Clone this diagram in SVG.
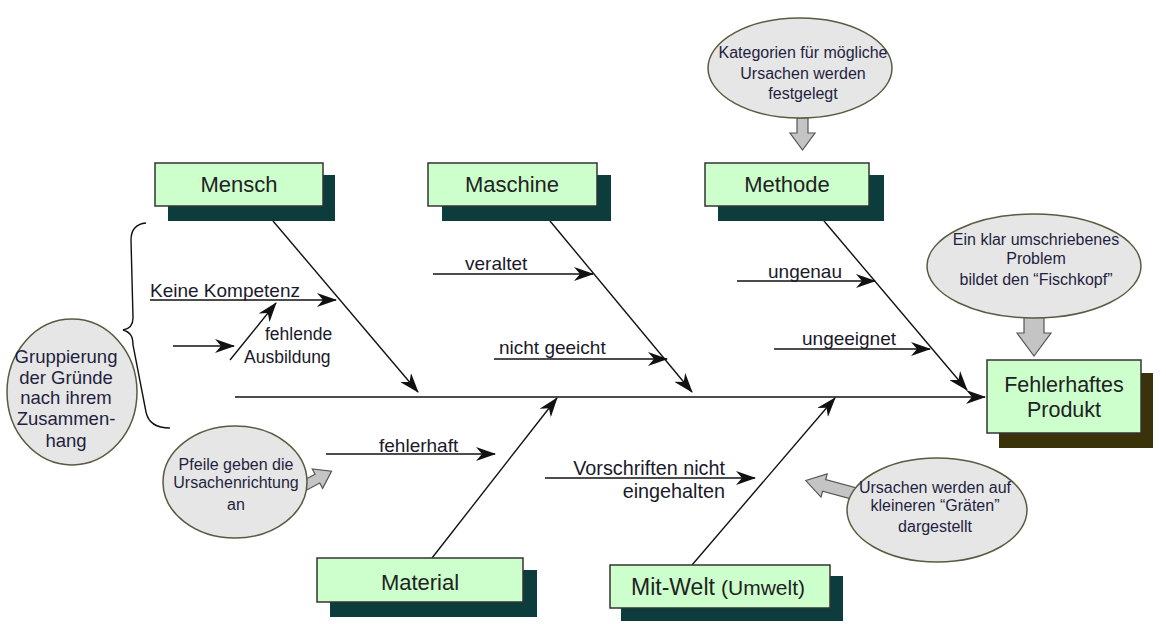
<svg xmlns="http://www.w3.org/2000/svg" width="1166" height="624" viewBox="0 0 1166 624">
<defs>
<style>
.box{fill:#ccffcc;stroke:#333;stroke-width:1.5}
.sh{fill:#0c3c3c}
.sh2{fill:#3a3208}
.ov{fill:#e6e6e6;stroke:#5a5a40;stroke-width:1.5}
.ga{fill:#c4c4c4;stroke:#555;stroke-width:1.2}
.ln{stroke:#111;stroke-width:1.4;fill:none}
.bl{font-family:"Liberation Sans",Arial,sans-serif;font-size:22px;fill:#222;text-anchor:middle}
.lb{font-family:"Liberation Sans",Arial,sans-serif;font-size:19px;fill:#1a1a2a}
.ot{font-family:"Liberation Sans",Arial,sans-serif;font-size:16px;fill:#1f1f3f;text-anchor:middle}
</style>
<marker id="ah" viewBox="0 0 20 14" refX="19" refY="7" markerWidth="20" markerHeight="14" orient="auto" markerUnits="userSpaceOnUse">
<path d="M0,0 L20,7 L0,14 L6,7 z" fill="#111"/>
</marker>
</defs>
<rect width="1166" height="624" fill="#fff"/>

<g id="connectors">
<line class="ln" x1="235" y1="397" x2="985" y2="397" marker-end="url(#ah)"/>
<line class="ln" x1="273" y1="221" x2="418" y2="392" marker-end="url(#ah)"/>
<line class="ln" x1="550" y1="221" x2="692" y2="392" marker-end="url(#ah)"/>
<line class="ln" x1="824" y1="221" x2="967" y2="390" marker-end="url(#ah)"/>
<line class="ln" x1="432" y1="558" x2="557" y2="398" marker-end="url(#ah)"/>
<line class="ln" x1="692" y1="565" x2="835" y2="398" marker-end="url(#ah)"/>
<line class="ln" x1="150" y1="300" x2="336" y2="300" marker-end="url(#ah)"/>
<line class="ln" x1="230" y1="360" x2="276" y2="303" marker-end="url(#ah)"/>
<line class="ln" x1="173" y1="346" x2="234" y2="346" marker-end="url(#ah)"/>
<line class="ln" x1="433" y1="274" x2="593" y2="274" marker-end="url(#ah)"/>
<line class="ln" x1="494" y1="359" x2="667" y2="359" marker-end="url(#ah)"/>
<line class="ln" x1="737" y1="281" x2="875" y2="281" marker-end="url(#ah)"/>
<line class="ln" x1="774" y1="349" x2="930" y2="349" marker-end="url(#ah)"/>
<line class="ln" x1="326" y1="454" x2="495" y2="454" marker-end="url(#ah)"/>
<line class="ln" x1="545" y1="478" x2="755" y2="478" marker-end="url(#ah)"/>
<path class="ln" d="M146,223 C136,224 131,229 131,240 L133,318 C133,326 129,329 123,330 C130,332 133,336 133,345 L146,412 C148,422 156,428 170,428"/>
</g>

<g id="labels">
<text class="lb" x="150" y="297">Keine Kompetenz</text>
<text class="lb" x="265" y="340" style="font-size:17.5px">fehlende</text>
<text class="lb" x="244" y="363" style="font-size:17.5px">Ausbildung</text>
<text class="lb" x="465" y="270">veraltet</text>
<text class="lb" x="499" y="354">nicht geeicht</text>
<text class="lb" x="768" y="278">ungenau</text>
<text class="lb" x="802" y="345">ungeeignet</text>
<text class="lb" x="379" y="452">fehlerhaft</text>
<text class="lb" x="725" y="475" text-anchor="end" style="font-size:19.8px">Vorschriften nicht</text>
<text class="lb" x="725" y="498" text-anchor="end" style="font-size:19.8px">eingehalten</text>
</g>

<g id="mensch">
<rect class="sh" x="168" y="175" width="167" height="46"/>
<rect class="box" x="155" y="163" width="168" height="43"/>
<text class="bl" x="239" y="192">Mensch</text>
</g>
<g id="maschine">
<rect class="sh" x="442" y="175" width="169" height="46"/>
<rect class="box" x="428" y="163" width="169" height="43"/>
<text class="bl" x="512" y="192">Maschine</text>
</g>
<g id="methode">
<rect class="sh" x="718" y="175" width="166" height="46"/>
<rect class="box" x="705" y="163" width="164" height="43"/>
<text class="bl" x="787" y="192">Methode</text>
</g>
<g id="material">
<rect class="sh" x="330" y="570" width="207" height="47"/>
<rect class="box" x="317" y="558" width="206" height="44"/>
<text class="bl" x="420" y="590">Material</text>
</g>
<g id="mitwelt">
<rect class="sh" x="621" y="576" width="222" height="45"/>
<rect class="box" x="610" y="565" width="220" height="43"/>
<text class="bl" x="718" y="595"><tspan style="font-size:23px">Mit-Welt</tspan> <tspan style="font-size:21px">(Umwelt)</tspan></text>
</g>
<g id="produkt">
<rect class="sh2" x="999" y="373" width="154" height="75"/>
<rect class="box" x="987" y="360" width="154" height="73"/>
<text class="bl" x="1064" y="392" style="font-size:21.5px">Fehlerhaftes</text>
<text class="bl" x="1064" y="417" style="font-size:21.5px">Produkt</text>
</g>

<g id="note-kategorien">
<polygon class="ga" points="797,118 808,118 808,133 815,133 802.5,150 790,133 797,133"/>
<ellipse class="ov" cx="800" cy="68" rx="92" ry="50"/>
<text class="ot" x="803" y="58">Kategorien für mögliche</text>
<text class="ot" x="803" y="79">Ursachen werden</text>
<text class="ot" x="803" y="99">festgelegt</text>
</g>
<g id="note-fischkopf">
<polygon class="ga" points="1024,316 1044,316 1044,333 1051,333 1034,356 1017,333 1024,333"/>
<ellipse class="ov" cx="1034" cy="266" rx="107" ry="52"/>
<text class="ot" x="1036" y="245">Ein klar umschriebenes</text>
<text class="ot" x="1036" y="264">Problem</text>
<text class="ot" x="1036" y="285">bildet den “Fischkopf”</text>
</g>
<g id="note-gruppierung">
<ellipse class="ov" cx="72" cy="392" rx="65" ry="73"/>
<text class="ot" x="66" y="363" style="font-size:18.5px">Gruppierung</text>
<text class="ot" x="66" y="384" style="font-size:18.5px">der Gründe</text>
<text class="ot" x="66" y="404" style="font-size:18.5px">nach ihrem</text>
<text class="ot" x="66" y="425" style="font-size:18.5px">Zusammen-</text>
<text class="ot" x="66" y="447" style="font-size:18.5px">hang</text>
</g>
<g id="note-pfeile">
<polygon class="ga" transform="translate(298,489) rotate(-28)" points="0,-5 22,-5 22,-11 38,0 22,11 22,5 0,5"/>
<ellipse class="ov" cx="235" cy="482" rx="72" ry="56"/>
<text class="ot" x="236" y="470">Pfeile geben die</text>
<text class="ot" x="236" y="488">Ursachenrichtung</text>
<text class="ot" x="236" y="510">an</text>
</g>
<g id="note-ursachen">
<polygon class="ga" transform="translate(856,494) rotate(195)" points="0,-6 33,-6 33,-12 52,0 33,12 33,6 0,6"/>
<ellipse class="ov" cx="937" cy="510" rx="90" ry="52"/>
<text class="ot" x="935" y="493">Ursachen werden auf</text>
<text class="ot" x="935" y="511">kleineren “Gräten”</text>
<text class="ot" x="935" y="532">dargestellt</text>
</g>
</svg>
